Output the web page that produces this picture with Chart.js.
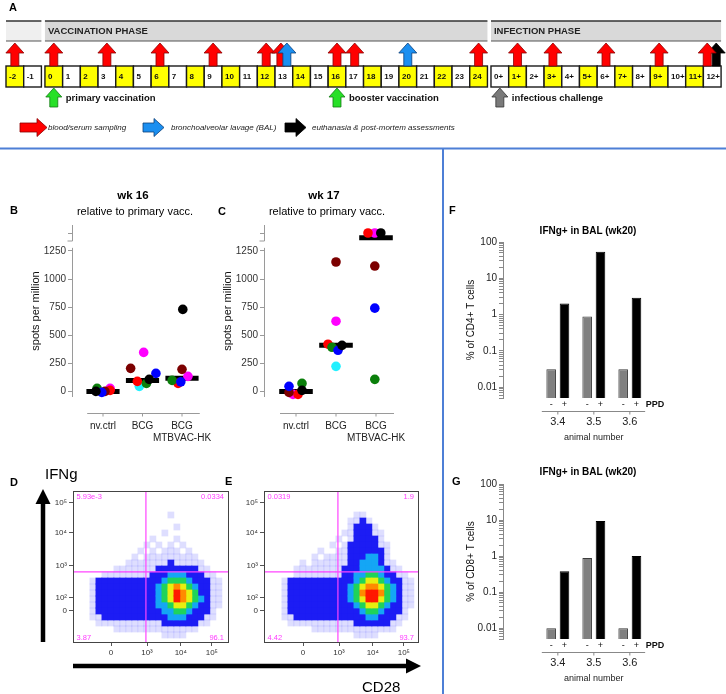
<!DOCTYPE html>
<html><head><meta charset="utf-8">
<script src="https://cdn.jsdelivr.net/npm/chart.js@4.4.1/dist/chart.umd.min.js"></script>
<style>
html,body{margin:0;padding:0;background:#fff;}
#wrap{position:relative;width:726px;height:694px;overflow:hidden;font-family:"Liberation Sans",Arial,Helvetica,sans-serif;}
#wrap canvas{position:absolute;left:0;top:0;}
#wrap svg{position:absolute;left:0;top:0;}
.t{position:absolute;white-space:nowrap;line-height:1;}
</style></head>
<body><div id="wrap">
<canvas id="cA" width="726" height="694"></canvas>
<canvas id="cB" width="726" height="694"></canvas>
<canvas id="cC" width="726" height="694"></canvas>
<canvas id="cD" width="726" height="694"></canvas>
<canvas id="cE" width="726" height="694"></canvas>
<canvas id="cF" width="726" height="694"></canvas>
<canvas id="cG" width="726" height="694"></canvas>
<svg width="726" height="694">
<line x1="0" y1="148.5" x2="726" y2="148.5" stroke="#4d7fd6" stroke-width="2"/>
<line x1="443" y1="149" x2="443" y2="694" stroke="#4d7fd6" stroke-width="2"/>
<line x1="43" y1="642" x2="43" y2="502" stroke="#000" stroke-width="4.5"/>
<polygon points="35.5,504 50.5,504 43,489" fill="#000"/>
<line x1="73" y1="666" x2="408" y2="666" stroke="#000" stroke-width="4.5"/>
<polygon points="406,658.5 406,673.5 421,666" fill="#000"/>
</svg>
</div>
<script>
// ================= DATA =================
// Panel A – study timeline
const preWeeks = ['-2','-1'];
const vaccWeeks = ['0','1','2','3','4','5','6','7','8','9','10','11','12','13','14','15','16','17','18','19','20','21','22','23','24'];
const infWeeks = ['0+','1+','2+','3+','4+','5+','6+','7+','8+','9+','10+','11+','12+'];
const yellowWeeks = ['-2','0','2','4','6','8','10','12','14','16','18','20','22','24','1+','3+','5+','7+','9+','11+'];
const bloodWeeks = ['-2','0','3','6','9','12','13','16','17','24','1+','3+','6+','9+','12+'];
const balWeeks = ['13','20'];
const euthWeeks = ['12+'];
const vaccinationWeeks = ['0','16'];
const vaccinationLabels = ['primary vaccination','booster vaccination'];
const challengeWeeks = ['0+'];
const challengeLabels = ['infectious challenge'];
const phaseNames = ['', 'VACCINATION PHASE', 'INFECTION PHASE'];
const legendLabels = ['blood/serum sampling','bronchoalveolar lavage (BAL)','euthanasia & post-mortem assessments'];

// Panels B, C – ELISpot, spots per million (rows = animals, cols = groups)
const groupLabels = ['nv.ctrl','BCG','BCG\nMTBVAC-HK'];
const spotTicks = [0,250,500,750,1000,1250];
const spotBreakTicks = [1500];
const animalColors = ['#000000','#0000ff','#0b7f0b','#7c0000','#ff0000','#ff00ff','#22f0ff'];
const wk16Spots = [
  [0,107,730],[-9,160,85],[27,71,98],[0,205,196],[9,89,71],[27,347,134],[null,45,null]];
const wk16Spread = [
  [-0.18,0.17,0.02],[-0.03,0.34,-0.03],[-0.15,0.10,-0.25],[0.05,-0.30,0.0],[0.18,-0.13,-0.10],[0.18,0.03,0.15],[null,-0.08,null]];
const wk16Median = [0,98,116];
const wk17Spots = [
  [9,410,1500],[45,366,741],[71,393,107],[-9,1152,1116],[-27,420,1500],[-27,625,1500],[null,223,null]];
const wk17Spread = [
  [0.15,0.15,0.12],[-0.175,0.05,-0.03],[0.15,-0.10,-0.03],[-0.175,0.0,-0.03],[0.05,-0.20,-0.20],[-0.075,0.0,-0.03],[null,0.0,null]];
const wk17Median = [0,410,1465];

// Panels D, E – flow cytometry (CD28 vs IFNg), density levels 0..7 per cell
const flowXTicks = [0,1,1.94,2.8];
const flowXTickLabels = ['0','10³','10⁴','10⁵'];
const flowYTicks = [0,0.41,1.41,2.44,3.38];
const flowYTickLabels = ['0','10²','10³','10⁴','10⁵'];
const cd28Gate = 0.97;
const ifngGate = 1.22;
const quadD = ['5.93e-3','0.0334','3.87','96.1'];
const quadE = ['0.0319','1.9','4.42','93.7'];
const densityD = [
 '000000000000001000000000',
 '000000000000000000000000',
 '000000000000000100000000',
 '000000000000010000000000',
 '000000000001000100000000',
 '000000000010101010000000',
 '000000000101011101000000',
 '000000001011111111100000',
 '000000011111112111110000',
 '000001111111222222211000',
 '000111111112223332221100',
 '012222222222234443222110',
 '012222222222345654322110',
 '012222222222345765422110',
 '012222222222345765432110',
 '012222222222334554322110',
 '012222222222233443222100',
 '011222222222223332221100',
 '001111111111122222211000',
 '000001111111111111100000',
 '000000000000011110000000'];
const densityE = [
 '000000000000011000000000',
 '000000000000112100000000',
 '000000000000122210000000',
 '000000000001122211000000',
 '000000000010122221000000',
 '000000000101222221100000',
 '000000010011222222100000',
 '000000101111222332100000',
 '000010111111223332110000',
 '000111111112223333211000',
 '000111111112233443221100',
 '012222222222234554322110',
 '012222222222345665432110',
 '012222222222346776432110',
 '012222222222345775432110',
 '012222222222234554322110',
 '012222222222223443222100',
 '011222222222222332221100',
 '001111111111122222211000',
 '000000111111111111110000',
 '000000000000011110000000'];

// Panels F, G – IFNg+ in BAL (wk20), % of T cells
const animalNumbers = ['3.4','3.5','3.6'];
const ppdLabels = ['-','+'];
const logTickLabels = ['0.01','0.1','1','10','100'];
const cd4Unstim = [0.031,0.88,0.031];
const cd4PPD = [2.0,54,2.9];
const cd8Unstim = [0.01,0.88,0.01];
const cd8PPD = [0.38,9.4,1.0];

// ================= SETUP =================
const W=726,H=694;
const FONT='"Liberation Sans", Arial, Helvetica, sans-serif';
function fnt(size,bold,italic){return (italic?'italic ':'')+(bold?'bold ':'')+size+'px '+FONT;}
Chart.defaults.font.family=FONT;
Chart.defaults.animation=false;
Chart.defaults.responsive=false;
Chart.defaults.maintainAspectRatio=false;
Chart.defaults.events=[];
Chart.defaults.plugins.legend.display=false;
Chart.defaults.plugins.tooltip.enabled=false;
function padFor(a,yw,xh){return {left:a.l-(yw||0),top:a.t,right:W-a.r,bottom:H-a.b-(xh||0)};}
const wrap=document.getElementById('wrap');
function addText(s,x,y,o){o=o||{};const d=document.createElement('div');d.className='t';d.textContent=s;
 d.style.left=x+'px';d.style.top=y+'px';d.style.fontSize=(o.size||10)+'px';
 d.style.fontWeight=o.bold?'bold':'normal';if(o.italic)d.style.fontStyle='italic';d.style.color=o.color||'#000';
 const tx=o.align==='c'?'-50%':(o.align==='r'?'-100%':'0');d.style.transform='translate('+tx+',-50%)';wrap.appendChild(d);}

// ================= PANEL A =================
const weekGroups=[preWeeks,vaccWeeks,infWeeks];
const groupStarts=[0,2.2,27.4];
const BOXW=17.7;
function slotOf(w){for(let g=0;g<3;g++){const i=weekGroups[g].indexOf(w);if(i>=0)return groupStarts[g]+i;}return null;}
function upArrow(ctx,cx,tip,base,fill,stroke,hw,hh,sw){
 ctx.beginPath();ctx.moveTo(cx,tip);ctx.lineTo(cx+hw/2,tip+hh);ctx.lineTo(cx+sw/2,tip+hh);ctx.lineTo(cx+sw/2,base);
 ctx.lineTo(cx-sw/2,base);ctx.lineTo(cx-sw/2,tip+hh);ctx.lineTo(cx-hw/2,tip+hh);ctx.closePath();
 ctx.fillStyle=fill;ctx.fill();ctx.strokeStyle=stroke;ctx.lineWidth=0.8;ctx.stroke();}
function rightArrow(ctx,x0,x1,cy,fill,stroke,hl,hh,sh){
 ctx.beginPath();ctx.moveTo(x1,cy);ctx.lineTo(x1-hl,cy-hh/2);ctx.lineTo(x1-hl,cy-sh/2);ctx.lineTo(x0,cy-sh/2);
 ctx.lineTo(x0,cy+sh/2);ctx.lineTo(x1-hl,cy+sh/2);ctx.lineTo(x1-hl,cy+hh/2);ctx.closePath();
 ctx.fillStyle=fill;ctx.fill();ctx.strokeStyle=stroke;ctx.lineWidth=0.8;ctx.stroke();}
const RED=['#ff0000','#8b0000'],BLUE=['#1b8ff0','#0b3f7a'],BLACK=['#000000','#000000'],GREEN=['#27e027','#137a13'],GRAY=['#7a7a7a','#333333'];
const timelinePlugin={id:'timeline',afterDraw(chart){
 const ctx=chart.ctx,xs=chart.scales.x,px=v=>xs.getPixelForValue(v);
 ctx.save();
 const bT=21,bB=41;
 weekGroups.forEach((g,gi)=>{const x0=px(groupStarts[gi]),x1=px(groupStarts[gi]+g.length);
  ctx.fillStyle=gi===0?'#efefef':'#d9d9d9';ctx.fillRect(x0,bT,x1-x0,bB-bT);
  ctx.strokeStyle='#333';ctx.lineWidth=1.6;ctx.beginPath();ctx.moveTo(x0,bT);ctx.lineTo(x1,bT);ctx.stroke();
  ctx.strokeStyle='#555';ctx.lineWidth=1.1;ctx.beginPath();ctx.moveTo(x0,bB);ctx.lineTo(x1,bB);ctx.stroke();
  if(phaseNames[gi]){ctx.fillStyle='#222';ctx.font=fnt(9.5,true);ctx.textAlign='left';ctx.textBaseline='middle';ctx.fillText(phaseNames[gi],x0+3,(bT+bB)/2+0.5);}
 });
 const boxT=66,boxB=87;
 weekGroups.forEach((g,gi)=>g.forEach((w,i)=>{const x0=px(groupStarts[gi]+i),x1=px(groupStarts[gi]+i+1);
  ctx.fillStyle=yellowWeeks.includes(w)?'#ffff00':'#ffffff';ctx.fillRect(x0,boxT,x1-x0,boxB-boxT);
  ctx.strokeStyle='#1a1a1a';ctx.lineWidth=1.4;ctx.strokeRect(x0,boxT,x1-x0,boxB-boxT);
  ctx.fillStyle='#111';ctx.font=fnt(8,true);ctx.textAlign='left';ctx.textBaseline='middle';ctx.fillText(w,x0+3,(boxT+boxB)/2+0.5);
 }));
 weekGroups.flat().forEach(w=>{const c=px(slotOf(w)+0.5);
  const hb=bloodWeeks.includes(w),hl=balWeeks.includes(w),he=euthWeeks.includes(w);
  if(he)upArrow(ctx,c+(hb?4:0),43,66,BLACK[0],BLACK[1],18,10,8);
  if(hb)upArrow(ctx,c-(hl?3:(he?5:0)),43,66,RED[0],RED[1],18,10,8);
  if(hl)upArrow(ctx,c+(hb?3:0),43,66,BLUE[0],BLUE[1],18,10,8);
 });
 ctx.font=fnt(9.5,true);ctx.fillStyle='#111';ctx.textAlign='left';ctx.textBaseline='middle';
 vaccinationWeeks.forEach((w,i)=>{const c=px(slotOf(w)+0.5);upArrow(ctx,c,88,107,GREEN[0],GREEN[1],16,9,8);
  ctx.fillStyle='#111';ctx.fillText(vaccinationLabels[i],c+12,98);});
 challengeWeeks.forEach((w,i)=>{const c=px(slotOf(w)+0.5);upArrow(ctx,c,88,107,GRAY[0],GRAY[1],16,9,8);
  ctx.fillStyle='#111';ctx.fillText(challengeLabels[i],c+12,98);});
 const lg=[[20,47,RED,48],[143,164,BLUE,171],[285,306,BLACK,312]];
 lg.forEach((l,i)=>{rightArrow(ctx,l[0],l[1],127.5,l[2][0],l[2][1],10,18,9);
  ctx.fillStyle='#222';ctx.font=fnt(8,false,true);ctx.textAlign='left';ctx.textBaseline='middle';ctx.fillText(legendLabels[i],l[3],128);});
 ctx.fillStyle='#000';ctx.font=fnt(11,true);ctx.textBaseline='middle';ctx.fillText('A',9,8);
 ctx.restore();
}};
new Chart(document.getElementById('cA'),{type:'scatter',data:{datasets:[]},
 options:{layout:{padding:0},scales:{x:{type:'linear',min:-6/BOXW,max:-6/BOXW+W/BOXW,display:false},y:{type:'linear',min:0,max:1,display:false}}},
 plugins:[timelinePlugin]});

// ================= PANELS B, C =================
const SPOT_MIN=-50,BREAK_AT=1250,MED_HALF=0.42;
const AXC='#9a9a9a';
const dotAxesPlugin={id:'dotAxes',afterDraw(chart){
 const {ctx,chartArea:ca,scales:{x,y,y2}}=chart;ctx.save();ctx.strokeStyle=AXC;ctx.lineWidth=1;
 const X=Math.round(ca.left)+0.5;
 const ln=(a,b,c,d)=>{ctx.beginPath();ctx.moveTo(a,b);ctx.lineTo(c,d);ctx.stroke();};
 ln(X,y.getPixelForValue(SPOT_MIN),X,y.getPixelForValue(1278));
 ln(X,y2.getPixelForValue(1440),X,y2.getPixelForValue(1560));
 ln(X-5,y2.getPixelForValue(1440),X,y2.getPixelForValue(1440));
 const yb=Math.round(ca.bottom+16)+0.5;
 ln(x.getPixelForValue(0.6),yb,x.getPixelForValue(3.45),yb);
 ctx.fillStyle='#222';ctx.font=fnt(10);ctx.textAlign='center';ctx.textBaseline='middle';
 groupLabels.forEach((lab,i)=>{const p=x.getPixelForValue(i+1);ln(p,yb,p,yb+3);
  lab.split('\n').forEach((s,k)=>ctx.fillText(s,p,ca.bottom+29+k*12));});
 ctx.restore();}};
function dotChart(id,spots,spread,medians,area,xr){
 const ds=[];
 medians.forEach((m,g)=>ds.push({type:'line',data:[{x:g+1-MED_HALF,y:m},{x:g+1+MED_HALF,y:m}],yAxisID:m>BREAK_AT?'y2':'y',
  borderColor:'#000',borderWidth:5,pointRadius:0,borderCapStyle:'butt',order:50,clip:false}));
 spots.forEach((row,a)=>{const lo=[],hi=[];
  row.forEach((v,g)=>{if(v===null)return;const p={x:g+1+spread[a][g],y:v};(v>BREAK_AT?hi:lo).push(p);});
  [[lo,'y'],[hi,'y2']].forEach(([pts,ax])=>{if(pts.length)ds.push({type:'scatter',data:pts,yAxisID:ax,backgroundColor:animalColors[a],
   borderWidth:0,pointRadius:4.8,order:a+1,clip:false});});});
 const tickCommon={color:'#333',font:{size:10},padding:2,autoSkip:false,callback:v=>String(v)};
 return new Chart(document.getElementById(id),{type:'scatter',data:{datasets:ds},options:{
  layout:{padding:padFor(area,42.6)},
  scales:{
   x:{type:'linear',min:xr[0],max:xr[1],display:false},
   y:{type:'linear',position:'left',weight:1,min:SPOT_MIN,max:1481.5,afterFit(s){s.width=42.6;},
      afterBuildTicks(s){s.ticks=spotTicks.map(v=>({value:v}));},ticks:tickCommon,
      grid:{drawOnChartArea:false,tickLength:4,color:AXC},border:{display:false},
      title:{display:true,text:'spots per million',font:{size:11},color:'#111',padding:0}},
   y2:{type:'linear',position:'left',weight:0,min:270,max:1560,afterFit(s){s.width=0;},
      afterBuildTicks(s){s.ticks=spotBreakTicks.map(v=>({value:v}));},ticks:tickCommon,
      grid:{drawOnChartArea:false,tickLength:4,color:AXC},border:{display:false}}
  }},plugins:[dotAxesPlugin]});
}
dotChart('cB',wk16Spots,wk16Spread,wk16Median,{l:72,t:225,r:205,b:397},[1-31/39.5,1-31/39.5+133/39.5]);
dotChart('cC',wk17Spots,wk17Spread,wk17Median,{l:264,t:225,r:398,b:397},[0.2,3.55]);

// ================= PANELS D, E =================
const GX0=-0.67,GDX=6/36,GY0=3.0,GDY=6/32;
const levelColors=[null,'rgba(60,60,255,0.17)','#1c1cf4','#14a6f5','#1fd35a','#e8ee10','#ff8a00','#ff1800'];
const FLOW_YMIN=-0.969,FLOW_YMAX=3.75;
function cells(rows,level){const p=[];rows.forEach((r,i)=>[...r].forEach((ch,j)=>{if(+ch===level)p.push({x:GX0+j*GDX,y:GY0-i*GDY});}));return p;}
function flowPlugin(quad){return {id:'flowFrame',afterDraw(chart){const {ctx,chartArea:ca}=chart;ctx.save();
 ctx.strokeStyle='#444';ctx.lineWidth=1;ctx.strokeRect(Math.round(ca.left)+0.5,Math.round(ca.top)+0.5,Math.round(ca.right-ca.left),Math.round(ca.bottom-ca.top));
 ctx.fillStyle='#ff3cff';ctx.font=fnt(7.5);ctx.textBaseline='middle';
 ctx.textAlign='left';ctx.fillText(quad[0],ca.left+3.5,ca.top+6);ctx.fillText(quad[2],ca.left+3.5,ca.bottom-4.5);
 ctx.textAlign='right';ctx.fillText(quad[1],ca.right-4,ca.top+6);ctx.fillText(quad[3],ca.right-4,ca.bottom-4.5);
 ctx.restore();}};}
function flowChart(id,rows,quad,area,xr){
 const ds=[];
 for(let lv=7;lv>=1;lv--)ds.push({type:'scatter',data:cells(rows,lv),backgroundColor:levelColors[lv],pointStyle:'rect',pointRadius:4.75,borderWidth:0,order:8-lv+1});
 ds.push({type:'line',data:[{x:cd28Gate,y:FLOW_YMIN},{x:cd28Gate,y:FLOW_YMAX}],borderColor:'#ff44ff',borderWidth:1.2,pointRadius:0,order:0});
 ds.push({type:'line',data:[{x:xr[0],y:ifngGate},{x:xr[1],y:ifngGate}],borderColor:'#ff44ff',borderWidth:1.2,pointRadius:0,order:0});
 return new Chart(document.getElementById(id),{type:'scatter',data:{datasets:ds},options:{
  layout:{padding:padFor(area,28,20)},
  scales:{
   x:{type:'linear',min:xr[0],max:xr[1],afterFit(s){s.height=20;},afterBuildTicks(s){s.ticks=flowXTicks.map(v=>({value:v}));},
      ticks:{callback:(v,i)=>flowXTickLabels[i],font:{size:8},color:'#333',padding:2,autoSkip:false,maxRotation:0},
      grid:{drawOnChartArea:false,tickLength:4,color:'#555'},border:{display:false}},
   y:{type:'linear',min:FLOW_YMIN,max:FLOW_YMAX,afterFit(s){s.width=28;},afterBuildTicks(s){s.ticks=flowYTicks.map(v=>({value:v}));},
      ticks:{callback:(v,i)=>flowYTickLabels[i],font:{size:8},color:'#333',padding:2,autoSkip:false},
      grid:{drawOnChartArea:false,tickLength:4,color:'#555'},border:{display:false}}
  }},plugins:[flowPlugin(quad)]});
}
flowChart('cD',densityD,quadD,{l:73,t:491,r:228,b:642},[-38/36,117/36]);
flowChart('cE',densityE,quadE,{l:264,t:491,r:418,b:642},[-39/36,115/36]);

// ================= PANELS F, G =================
const PPD_SHIFT=0.185;
const barAxesPlugin={id:'barAxes',afterDraw(chart){
 const {ctx,chartArea:ca,scales:{x}}=chart;ctx.save();
 ctx.fillStyle='#111';ctx.textAlign='center';ctx.textBaseline='middle';ctx.font=fnt(9);
 chart.data.datasets.forEach((d,di)=>chart.getDatasetMeta(di).data.forEach(el=>ctx.fillText(ppdLabels[di],el.x,ca.bottom+7)));
 ctx.font=fnt(9,true);ctx.textAlign='left';ctx.fillText('PPD',x.getPixelForValue(3.444),ca.bottom+7);
 ctx.strokeStyle='#888';ctx.lineWidth=1;const yb=Math.round(ca.bottom+13)+0.5;
 ctx.beginPath();ctx.moveTo(x.getPixelForValue(0.555),yb);ctx.lineTo(x.getPixelForValue(3.426),yb);ctx.stroke();
 ctx.font=fnt(11);ctx.textAlign='center';ctx.fillStyle='#222';
 animalNumbers.forEach((n,i)=>{const p=x.getPixelForValue(i+1);ctx.beginPath();ctx.moveTo(p,yb);ctx.lineTo(p,yb+3);ctx.stroke();ctx.fillText(n,p,ca.bottom+24);});
 ctx.font=fnt(9);ctx.fillText('animal number',x.getPixelForValue(2),ca.bottom+40);
 ctx.restore();}};
function barChart(id,unstim,ppd,ytitle,area){
 const mk=(vals,sh,bg,bc)=>({type:'bar',data:vals.map((v,i)=>({x:i+1+sh,y:v})),backgroundColor:bg,borderColor:bc,borderWidth:1,maxBarThickness:14,grouped:false});
 return new Chart(document.getElementById(id),{type:'bar',data:{datasets:[mk(unstim,-PPD_SHIFT,'#808080','#3c3c3c'),mk(ppd,PPD_SHIFT,'#000000','#000000')]},
  options:{layout:{padding:padFor(area,38)},
  scales:{
   x:{type:'linear',min:1-38/54,max:1-38/54+177/54,display:false},
   y:{type:'logarithmic',position:'left',min:0.005,max:100,afterFit(s){s.width=38;},
      afterBuildTicks(s){const t=[];for(let e=-3;e<=2;e++)for(let m=1;m<=9;m++){const v=+(m*Math.pow(10,e)).toPrecision(3);if(v>=0.005-1e-12&&v<=100+1e-9)t.push({value:v});}s.ticks=t;},
      ticks:{autoSkip:false,font:{size:10},color:'#222',padding:2,callback:v=>{const e=Math.log10(v),r=Math.round(e);return Math.abs(e-r)<1e-6?logTickLabels[r+2]:'';}},
      grid:{drawOnChartArea:false,tickLength:4,color:'#888'},border:{display:true,color:'#888'},
      title:{display:true,text:ytitle,font:{size:10},color:'#111',padding:0}}
  }},plugins:[barAxesPlugin]});
}
barChart('cF',cd4Unstim,cd4PPD,'% of CD4+ T cells',{l:503,t:242,r:680,b:398});
barChart('cG',cd8Unstim,cd8PPD,'% of CD8+ T cells',{l:503,t:484,r:680,b:639});

// ================= TEXT =================
addText('B',10,210,{size:11,bold:1});
addText('wk 16',133,196,{size:11.5,bold:1,align:'c'});
addText('relative to primary vacc.',135,211,{size:11,align:'c'});
addText('C',218,211,{size:11,bold:1});
addText('wk 17',324,196,{size:11.5,bold:1,align:'c'});
addText('relative to primary vacc.',327,211,{size:11,align:'c'});
addText('D',10,482,{size:11,bold:1});
addText('E',225,481,{size:11,bold:1});
addText('IFNg',45,473,{size:15});
addText('CD28',362,686,{size:15});
addText('F',449,210,{size:11,bold:1});
addText('IFNg+ in BAL (wk20)',588,231,{size:10,bold:1,align:'c'});
addText('G',452,481,{size:11,bold:1});
addText('IFNg+ in BAL (wk20)',588,472,{size:10,bold:1,align:'c'});
</script>
</body></html>
